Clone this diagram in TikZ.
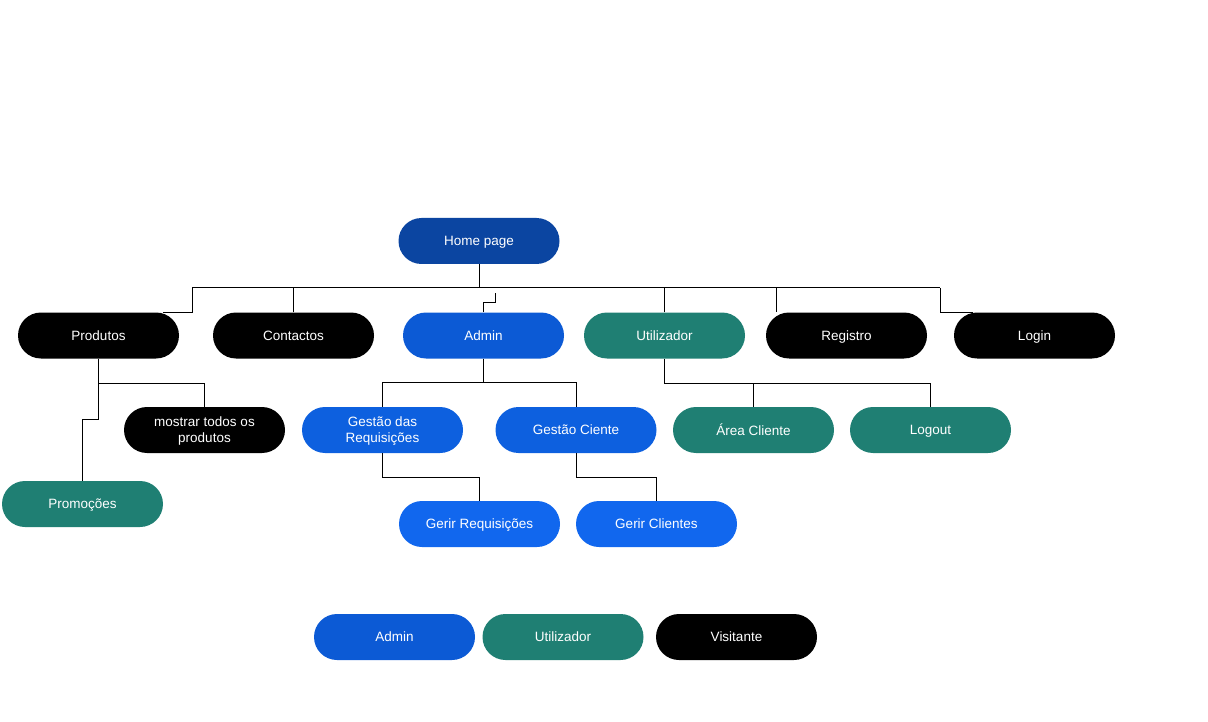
\documentclass[tikz,border=0pt]{standalone}
\usepackage{fontspec}
\setmainfont{Liberation Sans}
\usetikzlibrary{positioning}

\definecolor{homeblue}{HTML}{0B45A1}
\definecolor{adminblue}{HTML}{0C5AD5}
\definecolor{gestblue}{HTML}{0D60DF}
\definecolor{gerirblue}{HTML}{1167EE}
\definecolor{userteal}{HTML}{1F7F73}

\tikzset{
    pill/.style={rounded corners=23pt, minimum width=161pt, minimum height=46pt,
                 inner sep=0pt, text=white, align=center, text depth=0pt,
                 font=\fontsize{13.5}{16}\selectfont},
    visitor/.style={pill, fill=black},
    adminbox/.style={pill, fill=adminblue},
    userbox/.style={pill, fill=userteal},
    wire/.style={draw=black, line width=1pt}
}

\begin{document}
\begin{tikzpicture}[x=1pt,y=-1pt]
    \useasboundingbox (0,0) rectangle (1208,722);

    \node (home) [pill, fill=homeblue] at (479,241) {Home page};

    \node (produtos)   [visitor]  at (98.5,335.5)  {Produtos};
    \node (contactos)  [visitor]  at (293.5,335.5) {Contactos};
    \node (admin)      [adminbox] at (483.5,335.5) {Admin};
    \node (utilizador) [userbox]  at (664.5,335.5) {Utilizador};
    \node (registro)   [visitor]  at (846.5,335.5) {Registro};
    \node (login)      [visitor]  at (1034.5,335.5) {Login};

    \node (mostrar)    [visitor]  at (204.5,430) {mostrar todos os\\produtos};
    \node (promocoes)  [userbox]  at (82.5,504)  {Promoções};
    \node (gestreq)    [adminbox, fill=gestblue] at (382.5,430) {Gestão das\\Requisições};
    \node (gestcli)    [adminbox, fill=gestblue] at (576,430)   {Gestão Ciente};
    \node (area)       [userbox]  at (753.5,430) {Área Cliente};
    \node (logout)     [userbox]  at (930.5,430) {Logout};

    \node (gerirreq)   [adminbox, fill=gerirblue] at (479.5,524) {Gerir Requisições};
    \node (gerircli)   [adminbox, fill=gerirblue] at (656.5,524) {Gerir Clientes};

    % legend
    \node (legadmin)   [adminbox] at (394.5,637) {Admin};
    \node (leguser)    [userbox]  at (563,637)   {Utilizador};
    \node (legvisitor) [visitor]  at (736.5,637) {Visitante};

    % top level bus
    \coordinate (busL) at (192,288);
    \coordinate (busR) at (940,288);
    \coordinate (regtap) at (776,288);
    \coordinate (jog) at (495,293);
    \draw [wire] (home.south) -- (home.south |- busL);
    \draw [wire] (busL) -- (busR);
    \draw [wire] (busL) |- ([xshift=-16pt,yshift=-0.5pt]produtos.north east);
    \draw [wire] (contactos.north) -- (contactos.north |- busL);
    \draw [wire] (jog) -- ++(0,9) -| (admin.north);
    \draw [wire] (utilizador.north) -- (utilizador.north |- busL);
    \draw [wire] (regtap) -- (regtap |- registro.north);
    \draw [wire] (busR) |- ([xshift=19pt,yshift=-0.5pt]login.north west);

    % produtos
    \draw [wire] (produtos.south) -- ++(0,24.5) coordinate (pj) -| (mostrar.north);
    \draw [wire] (pj) -- ++(0,36) -| (promocoes.north);

    % admin
    \draw [wire] (admin.south) -- ++(0,24) coordinate (aj);
    \draw [wire] (gestreq.north) |- (aj) -| (gestcli.north);
    \draw [wire] (gestreq.south) -- ++(0,24) -| (gerirreq.north);
    \draw [wire] (gestcli.south) -- ++(0,24) -| (gerircli.north);

    % utilizador
    \draw [wire] (utilizador.south) -- ++(0,24.5) coordinate (uj) -| (area.north);
    \draw [wire] (uj) -| (logout.north);
\end{tikzpicture}
\end{document}
